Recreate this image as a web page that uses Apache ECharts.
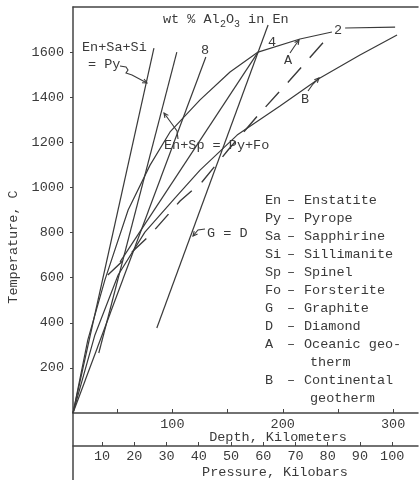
<!DOCTYPE html>
<html>
<head>
<meta charset="utf-8">
<script src="https://cdn.jsdelivr.net/npm/echarts@6/dist/echarts.min.js"></script>
<style>
  html, body { margin: 0; padding: 0; background: #fff; }
  #chart { width: 420px; height: 480px; }
</style>
</head>
<body>
<div id="chart"></div>
<script>
// pressure (kbar), temperature (C)
const lineEnSaSi = [[1, 0], [26.1, 1618]];
const lineEnSp = [[9, 266], [33.2, 1600]];
const iso8 = [[1, 0], [42.2, 1578]];
const iso4 = [[15.6, 670], [58.4, 1600]];
const iso2 = [[11.8, 612], [24.9, 789], [34.2, 940], [41, 1024], [49.1, 1166], [59, 1330], [68.3, 1476], [80.1, 1667]];
const lineGD = [[27, 377], [61.5, 1720]];
const geothermA = [[1, 0], [5.6, 324], [10.9, 590], [18.1, 900], [24.9, 1099], [31.1, 1246], [40.4, 1388],
    [49.7, 1512], [58.4, 1600], [71.4, 1658], [81.3, 1689], null, [85.4, 1707], [100.9, 1711]];
const geothermB = [[1, 0], [7.8, 346], [15, 612], [23.3, 802], [32.6, 953], [40.4, 1077], [51.9, 1232],
    [65.2, 1361], [77.6, 1485], [90, 1587], [101.5, 1676]];

const tempTicks = [200, 400, 600, 800, 1000, 1200, 1400, 1600];
const depthTicks = [50, 100, 150, 200, 250, 300];
const depthLabels = [100, 200, 300];
const pressureTicks = [10, 20, 30, 40, 50, 60, 70, 80, 90, 100];

const legendRows = [
    ['En', 'Enstatite'], ['Py', 'Pyrope'], ['Sa', 'Sapphirine'], ['Si', 'Sillimanite'],
    ['Sp', 'Spinel'], ['Fo', 'Forsterite'], ['G', 'Graphite'], ['D', 'Diamond'],
    ['A', 'Oceanic geo-'], ['', 'therm'], ['B', 'Continental'], ['', 'geotherm']
];

const fam = '"Liberation Mono", "DejaVu Sans Mono", monospace';
const ink = '#3a3a3a';
const axisColor = '#444';

const txt = (s, x, y, opts) => {
    opts = opts || {};
    return {
        type: 'text', x: x, y: y, silent: true, rotation: opts.rotation || 0,
        style: {
            text: s, fill: ink, font: (opts.size || 13.5) + 'px ' + fam,
            align: opts.align || 'left', verticalAlign: 'middle',
            textAlign: opts.align || 'left', textVerticalAlign: 'middle'
        }
    };
};

const stroke = { stroke: ink, lineWidth: 1.1, fill: null };

const arrow = (pts) => {
    const n = pts.length;
    const tip = pts[n - 1], prev = pts[n - 2];
    const a = Math.atan2(tip[1] - prev[1], tip[0] - prev[0]);
    const s = 5;
    const p1 = [tip[0] - s * Math.cos(a - 0.45), tip[1] - s * Math.sin(a - 0.45)];
    const p2 = [tip[0] - s * Math.cos(a + 0.45), tip[1] - s * Math.sin(a + 0.45)];
    return [
        { type: 'polyline', silent: true, shape: { points: pts }, style: stroke },
        { type: 'polyline', silent: true, shape: { points: [p1, tip, p2] }, style: stroke }
    ];
};

const graphics = [];
// y axis line continues down through both lower scales
graphics.push({ type: 'line', silent: true, shape: { x1: 73, y1: 413, x2: 73, y2: 480 }, style: { stroke: axisColor, lineWidth: 1.5 } });

graphics.push(txt('wt % Al', 163, 19));
graphics.push(txt('2', 220, 24, { size: 10 }));
graphics.push(txt('O', 226, 19));
graphics.push(txt('3', 234, 24, { size: 10 }));
graphics.push(txt(' in En', 240, 19));

graphics.push(txt('En+Sa+Si', 82, 47));
graphics.push(txt('= Py', 88, 64));
graphics.push(txt('8', 201, 50));
graphics.push(txt('4', 268, 42));
graphics.push(txt('2', 334, 30));
graphics.push(txt('A', 284, 60));
graphics.push(txt('B', 301, 99));
graphics.push(txt('En+Sp = Py+Fo', 164, 145));
graphics.push(txt('G = D', 207, 233));

legendRows.forEach((r, i) => {
    const y = 200 + i * 18;
    if (r[0]) {
        graphics.push(txt(r[0], 265, y));
        graphics.push(txt('\u2013', 287, y));
    }
    graphics.push(txt(r[1], r[0] ? 304 : 310, y));
});

graphics.push(txt('Temperature, C', 13, 247, { align: 'center', rotation: Math.PI / 2 }));
graphics.push(txt('Depth, Kilometers', 278, 437, { align: 'center' }));
graphics.push(txt('Pressure, Kilobars', 275, 472, { align: 'center' }));

arrow([[120, 66], [126, 67], [128, 70], [126, 73], [132, 75], [147, 83]]).forEach(g => graphics.push(g));
arrow([[178, 139], [177, 131], [172, 124], [164, 113]]).forEach(g => graphics.push(g));
arrow([[205, 229], [198, 230], [193, 236]]).forEach(g => graphics.push(g));
arrow([[290, 53], [294, 47], [299, 40]]).forEach(g => graphics.push(g));
arrow([[308, 91], [313, 84], [319, 78]]).forEach(g => graphics.push(g));

const labelStyle = { fontFamily: fam, fontSize: 13.5, color: ink, formatter: v => String(v) };

const mkLine = (data, dashed) => ({
    type: 'line', xAxisIndex: 1, yAxisIndex: 0, data: data, symbol: 'none', silent: true,
    connectNulls: false,
    lineStyle: { color: ink, width: dashed ? 1.4 : 1.2, type: dashed ? [20, 13] : 'solid' }
});

const chart = echarts.init(document.getElementById('chart'), null, { renderer: 'canvas' });
chart.setOption({
    animation: false,
    backgroundColor: '#fff',
    grid: { left: 73, right: 2, top: 7, bottom: 67, containLabel: false },
    xAxis: [
        {
            type: 'value', position: 'bottom', min: 10, max: 322.5,
            axisLine: { show: true, onZero: false, lineStyle: { color: axisColor, width: 1.5 } },
            axisTick: { show: true, inside: true, length: 4, customValues: depthTicks, lineStyle: { color: axisColor } },
            axisLabel: Object.assign({ customValues: depthLabels, margin: 4 }, labelStyle),
            splitLine: { show: false }
        },
        {
            type: 'value', position: 'bottom', offset: 33, min: 1, max: 108,
            axisLine: { show: true, onZero: false, lineStyle: { color: axisColor, width: 1.5 } },
            axisTick: { show: true, inside: true, length: 4, customValues: pressureTicks, lineStyle: { color: axisColor } },
            axisLabel: Object.assign({ customValues: pressureTicks, margin: 3 }, labelStyle),
            splitLine: { show: false }
        },
        {
            type: 'value', position: 'top', min: 0, max: 1,
            axisLine: { show: true, onZero: false, lineStyle: { color: axisColor, width: 1.5 } },
            axisTick: { show: false }, axisLabel: { show: false }, splitLine: { show: false }
        }
    ],
    yAxis: {
        type: 'value', min: 0, max: 1800,
        axisLine: { show: true, onZero: false, lineStyle: { color: axisColor, width: 1.5 } },
        axisTick: { show: true, length: 3, customValues: tempTicks, lineStyle: { color: axisColor } },
        axisLabel: Object.assign({ customValues: tempTicks, margin: 9 }, labelStyle),
        splitLine: { show: false }
    },
    graphic: graphics,
    series: [
        mkLine(lineEnSaSi), mkLine(lineEnSp), mkLine(iso8), mkLine(iso4), mkLine(iso2, true),
        mkLine(lineGD), mkLine(geothermA), mkLine(geothermB)
    ]
});
</script>
</body>
</html>
